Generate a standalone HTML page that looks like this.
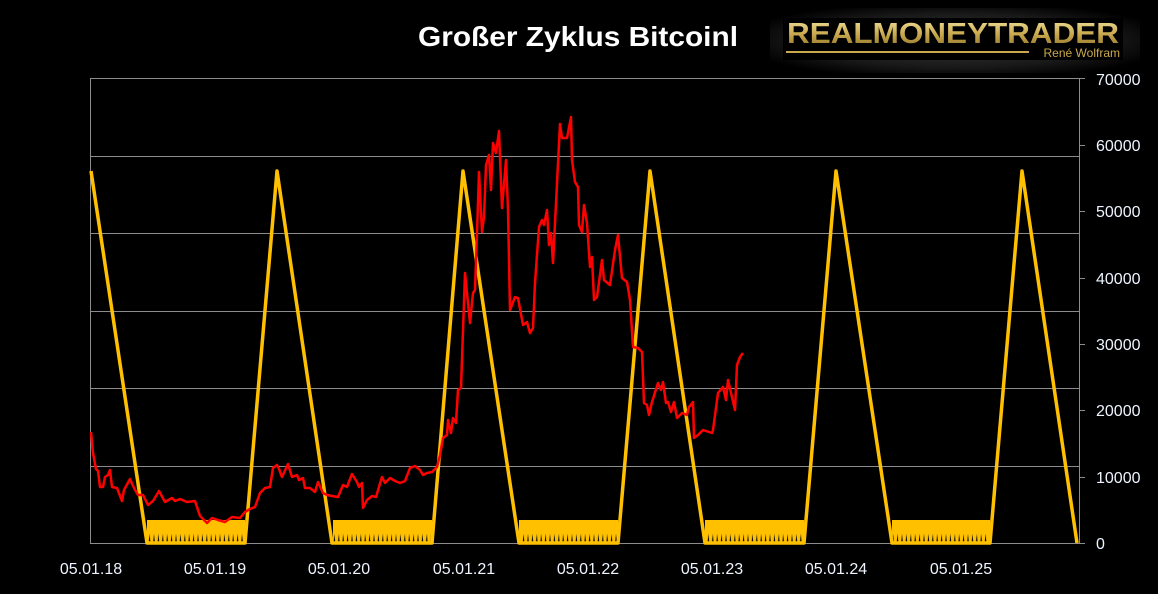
<!DOCTYPE html>
<html><head><meta charset="utf-8"><style>
html,body{margin:0;padding:0;background:#000;width:1158px;height:594px;overflow:hidden}
svg{display:block}
</style></head><body>
<svg width="1158" height="594" viewBox="0 0 1158 594" xmlns="http://www.w3.org/2000/svg">
<defs>
<linearGradient id="gold" x1="0" y1="0" x2="0" y2="1">
<stop offset="0" stop-color="#f3e3a0"/><stop offset="0.5" stop-color="#c9a94e"/><stop offset="1" stop-color="#8a6d25"/>
</linearGradient>
<radialGradient id="glow" cx="0.5" cy="0.5" r="0.6">
<stop offset="0" stop-color="#555"/><stop offset="0.7" stop-color="#222"/><stop offset="1" stop-color="#000"/>
</radialGradient>
<pattern id="zz" x="0" y="520" width="4.4" height="23" patternUnits="userSpaceOnUse">
<polyline points="0,0 2.2,23 4.4,0" fill="none" stroke="#ffc000" stroke-width="2.6"/>
<polygon points="0,0 2.2,12 4.4,0" fill="#ffc000"/>
</pattern>
</defs>
<rect width="1158" height="594" fill="#000"/>
<text x="578" y="46" text-anchor="middle" font-family="Liberation Sans, sans-serif" font-weight="bold" font-size="28" fill="#fff" textLength="320" lengthAdjust="spacingAndGlyphs">Großer Zyklus Bitcoinl</text>
<rect x="770" y="8" width="370" height="65" fill="url(#glow)" opacity="0.7"/>
<rect x="783" y="18" width="340" height="42" fill="#000"/>
<text x="787" y="43" font-family="Liberation Sans, sans-serif" font-weight="bold" font-size="29" fill="url(#gold)" textLength="332" lengthAdjust="spacingAndGlyphs">REALMONEYTRADER</text>
<line x1="786" y1="52" x2="1029" y2="52" stroke="#c9a94e" stroke-width="2"/>
<text x="1120" y="57" text-anchor="end" font-family="Liberation Sans, sans-serif" font-size="12" fill="#c9a94e">René Wolfram</text>
<g stroke="#8c8c8c" stroke-width="1">
<line x1="90" y1="78.5" x2="1079" y2="78.5"/>
<line x1="90" y1="156.5" x2="1079" y2="156.5"/>
<line x1="90" y1="233.5" x2="1079" y2="233.5"/>
<line x1="90" y1="311.5" x2="1079" y2="311.5"/>
<line x1="90" y1="388.5" x2="1079" y2="388.5"/>
<line x1="90" y1="466.5" x2="1079" y2="466.5"/>
<line x1="90" y1="543.5" x2="1079" y2="543.5"/>
<line x1="90.5" y1="78" x2="90.5" y2="543"/>
<line x1="1079.5" y1="78" x2="1079.5" y2="543"/>
<line x1="1079" y1="78.5" x2="1085" y2="78.5"/><line x1="1079" y1="145.5" x2="1085" y2="145.5"/>
<line x1="1079" y1="211.5" x2="1085" y2="211.5"/><line x1="1079" y1="278.5" x2="1085" y2="278.5"/>
<line x1="1079" y1="344.5" x2="1085" y2="344.5"/><line x1="1079" y1="410.5" x2="1085" y2="410.5"/>
<line x1="1079" y1="477.5" x2="1085" y2="477.5"/><line x1="1079" y1="543.5" x2="1085" y2="543.5"/>
</g>
<g font-family="Liberation Sans, sans-serif" font-size="16" fill="#eef4ff">
<text x="1096" y="85">70000</text><text x="1096" y="151">60000</text><text x="1096" y="217">50000</text>
<text x="1096" y="284">40000</text><text x="1096" y="350">30000</text><text x="1096" y="416">20000</text>
<text x="1096" y="483">10000</text><text x="1096" y="549">0</text>
</g>
<g font-family="Liberation Sans, sans-serif" font-size="16" fill="#eef4ff" text-anchor="middle">
<text x="91" y="574">05.01.18</text><text x="215" y="574">05.01.19</text><text x="339" y="574">05.01.20</text>
<text x="464" y="574">05.01.21</text><text x="588" y="574">05.01.22</text><text x="712" y="574">05.01.23</text>
<text x="836" y="574">05.01.24</text><text x="961" y="574">05.01.25</text>
</g>
<g fill="url(#zz)">
<rect x="147" y="520" width="98" height="23"/>
<rect x="333" y="520" width="99" height="23"/>
<rect x="519" y="520" width="99" height="23"/>
<rect x="705" y="520" width="99" height="23"/>
<rect x="892" y="520" width="98" height="23"/>
</g>
<polyline fill="none" stroke="#ffc000" stroke-width="3.5" stroke-linejoin="round" points="
91,171 147,543 245,543 277,171 332,543 432,543 463,171 519,543 618,543 650,171 705,543 804,543 836,171 892,543 990,543 1022,171 1077,543"/>
<polyline fill="none" stroke="#ff0000" stroke-width="2.5" stroke-linejoin="round" points="
91,432 93,453 96,469 98,471 100,487 103,487 105,477 108,475 110,470 112,487 117,488 122,501 124,490 130,479 134,488 138,495 143,495 148,505 153,501 159,491 165,502 172,498 175,501 180,499 187,502 195,501 200,516 207,523 212,518 218,520 225,522 232,517 240,518 245,512 250,509 255,507 260,493 265,488 270,487 273,468 277,465 279,469 282,477 288,464 292,477 297,475 299,480 303,478 305,488 310,488 315,492 318,482 323,493 327,495 332,496 338,497 343,485 347,487 352,474 357,482 359,487 362,483 363,508 367,500 372,496 376,497 382,477 385,483 390,478 395,481 400,483 405,481 410,468 415,466 420,470 423,475 427,473 432,472 437,467 440,455 443,438 447,435 448,420 451,433 453,418 456,423 458,390 461,388 465,273 470,323 473,293 475,290 477,233 479,172 482,232 484,217 486,165 489,155 491,190 493,143 496,153 499,131 502,208 506,160 508,210 510,310 515,297 518,298 523,325 527,322 530,333 533,328 535,283 539,227 542,220 544,225 547,210 549,245 551,233 553,263 560,124 562,138 567,138 571,117 572,160 575,182 578,187 579,225 582,232 584,205 587,223 590,267 592,257 594,300 597,297 602,260 604,280 610,285 615,250 618,235 622,278 627,282 630,300 633,347 638,348 642,352 644,403 647,405 649,415 652,402 658,383 661,390 663,382 666,403 668,402 671,412 674,402 677,418 682,413 687,415 689,407 693,402 694,438 698,435 703,430 712,433 713,430 718,393 723,387 726,400 728,380 735,410 737,365 740,357 743,353"/>
</svg>
</body></html>
